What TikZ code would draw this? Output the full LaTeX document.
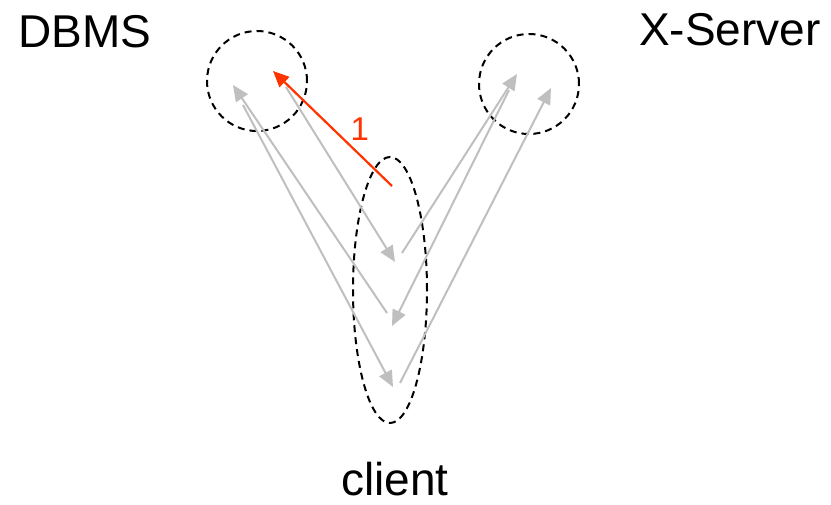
\documentclass[tikz,border=0pt]{standalone}
\usepackage{fontspec}
\setmainfont{Liberation Sans}
\usetikzlibrary{shapes.geometric, arrows.meta, positioning}
\definecolor{msggray}{RGB}{191,191,191}
\definecolor{msgred}{RGB}{255,51,0}

\begin{document}
\begin{tikzpicture}[x=1pt, y=-1pt,
  party/.style={draw, dash pattern=on 7pt off 5pt, line width=2pt},
  title/.style={font=\fontsize{46}{50}\selectfont, anchor=base},
  msg/.style={-{Triangle[length=16pt,width=14pt]}, line width=2pt, color=msggray},
  current/.style={msg, color=msgred, line width=2.2pt}
]
  \useasboundingbox (0,0) rectangle (831,504);
  % the three parties
  \node[party, circle, minimum size=100pt] (dbms) at (257,81) {};
  \node[party, circle, minimum size=100pt] (xsrv) at (529,84) {};
  \node[party, ellipse, minimum width=74pt, minimum height=266pt] (client) at (390,290) {};
  \node[title] (dbmslbl) at (85,47) {DBMS};
  \node[title] (xsrvlbl) at (730,45) {X-Server};
  \node[title] (clientlbl) at (395,495) {client};

  % end points of the messages
  \coordinate (c1) at (392,186);  \coordinate (d1) at (273,71);
  \coordinate (d2) at (286,87);   \coordinate (c2) at (395,262);
  \coordinate (c3) at (402,253);  \coordinate (x3) at (517,74);
  \coordinate (x4) at (509,90);   \coordinate (c4) at (392,326);
  \coordinate (c5) at (387,313);  \coordinate (d5) at (233,85);
  \coordinate (d6) at (243,105);  \coordinate (c6) at (393,387);
  \coordinate (c7) at (400,383);  \coordinate (x7) at (551,88);

  % messages
  \draw[msg] (d2) -- (c2);
  \draw[msg] (c3) -- (x3);
  \draw[msg] (x4) -- (c4);
  \draw[msg] (c5) -- (d5);
  \draw[msg] (d6) -- (c6);
  \draw[msg] (c7) -- (x7);
  \draw[current] (c1) -- (d1) node[pos=0.27, above=13pt, inner sep=0pt, font=\fontsize{33}{36}\selectfont, text=msgred] (step1) {1};
\end{tikzpicture}
\end{document}
